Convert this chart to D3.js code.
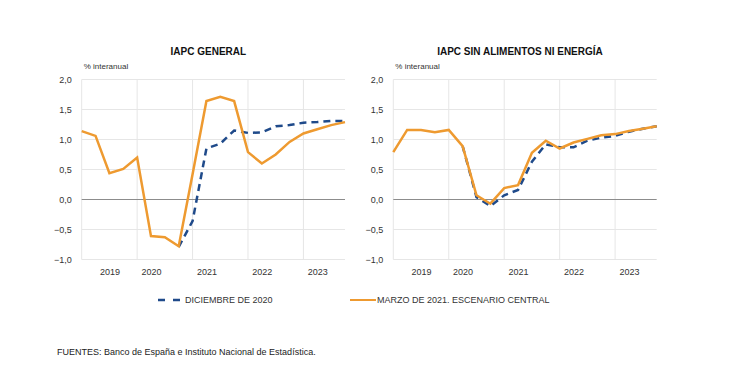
<!DOCTYPE html>
<html>
<head>
<meta charset="utf-8">
<script src="https://cdn.jsdelivr.net/npm/d3@7"></script>
<style>
  body { margin: 0; background: #fff; }
  svg { display: block; font-family: "Liberation Sans", Arial, sans-serif; }
</style>
</head>
<body>
<svg id="chart" width="750" height="373"></svg>
<script>
// trimestres 2019T1 - 2023T4
const quarters = [];
for (let yr = 2019; yr <= 2023; yr++) for (let q = 1; q <= 4; q++) quarters.push(yr + "T" + q);

const tickQuarters = ["2019T3", "2020T2", "2021T2", "2022T2", "2023T2"];
const tickLabels = ["2019", "2020", "2021", "2022", "2023"];
const gridQuarters = ["2020T1", "2021T1", "2022T1", "2023T1"];
const yTicks = [-1, -0.5, 0, 0.5, 1, 1.5, 2];

// IAPC general
const generalMar21 = [1.14, 1.06, 0.44, 0.51, 0.70, -0.61, -0.63, -0.78, 0.42, 1.64, 1.71, 1.64, 0.79, 0.60, 0.75, 0.96, 1.10, 1.17, 1.24, 1.29];
const generalDic20 = [null, null, null, null, null, null, null, -0.79, -0.36, 0.85, 0.93, 1.15, 1.11, 1.12, 1.22, 1.24, 1.28, 1.29, 1.31, 1.31];

// IAPC sin alimentos ni energía
const subyMar21 = [0.79, 1.16, 1.16, 1.12, 1.16, 0.89, 0.07, -0.07, 0.19, 0.24, 0.78, 0.98, 0.85, 0.95, 1.01, 1.07, 1.09, 1.14, 1.18, 1.22];
const subyDic20 = [null, null, null, null, null, 0.89, 0.04, -0.11, 0.07, 0.16, 0.63, 0.92, 0.87, 0.87, 0.98, 1.03, 1.06, 1.13, 1.18, 1.22];

const titles = ["IAPC GENERAL", "IAPC SIN ALIMENTOS NI ENERGÍA"];
const legendLabels = ["DICIEMBRE DE 2020", "MARZO DE 2021. ESCENARIO CENTRAL"];

const ORANGE = "#EE9A30";
const BLUE = "#1F4A8A";
const fmt = d => d3.format(".1f")(d).replace(".", ",");

const svg = d3.select("#chart");

function drawPanel(left, right, title, mar21, dic20) {
  const top = 79.5, bottom = 259.5;
  const x = d3.scalePoint().domain(quarters).range([left, right]);
  const y = d3.scaleLinear().domain([-1, 2]).range([bottom, top]);
  const g = svg.append("g");

  // rejilla horizontal
  g.append("g").selectAll("line").data(yTicks.filter(d => d !== 0)).join("line")
    .attr("x1", left).attr("x2", right)
    .attr("y1", d => y(d)).attr("y2", d => y(d))
    .attr("stroke", "#e6e6e6").attr("stroke-width", 1);

  // rejilla vertical
  g.append("g").selectAll("line").data([quarters[0]].concat(gridQuarters)).join("line")
    .attr("x1", d => x(d)).attr("x2", d => x(d))
    .attr("y1", top).attr("y2", bottom)
    .attr("stroke", "#e6e6e6").attr("stroke-width", 1);

  g.append("line")
    .attr("x1", left).attr("x2", right)
    .attr("y1", y(0)).attr("y2", y(0))
    .attr("stroke", "#8c8c8c").attr("stroke-width", 1);

  // eje Y
  const yAxis = g.append("g")
    .attr("transform", `translate(${left - 7},0)`)
    .call(d3.axisLeft(y).tickValues(yTicks).tickFormat(fmt).tickSize(0));
  yAxis.select(".domain").remove();
  yAxis.selectAll("text").attr("font-size", 9).attr("fill", "#333").attr("font-family", "Liberation Sans, Arial, sans-serif");

  // eje X
  const xAxis = g.append("g")
    .attr("transform", `translate(0,${bottom + 6})`)
    .call(d3.axisBottom(x).tickValues(tickQuarters).tickFormat((d, i) => tickLabels[i]).tickSize(0));
  xAxis.select(".domain").remove();
  xAxis.selectAll("text").attr("font-size", 9).attr("fill", "#333").attr("font-family", "Liberation Sans, Arial, sans-serif");

  const line = d3.line()
    .defined(d => d != null)
    .x((d, i) => x(quarters[i]))
    .y(d => y(d));

  g.append("path").datum(dic20)
    .attr("fill", "none").attr("stroke", BLUE).attr("stroke-width", 2.5)
    .attr("stroke-dasharray", "7,5")
    .attr("d", line);

  g.append("path").datum(mar21)
    .attr("fill", "none").attr("stroke", ORANGE).attr("stroke-width", 2.5)
    .attr("stroke-linejoin", "miter")
    .attr("d", line);

  g.append("text")
    .attr("x", (left + right) / 2 - 5).attr("y", 55)
    .attr("text-anchor", "middle")
    .attr("font-size", 10).attr("font-weight", "bold").attr("fill", "#111")
    .text(title);

  g.append("text")
    .attr("x", left + 2).attr("y", 69)
    .attr("font-size", 8).attr("fill", "#333")
    .text("% interanual");
}

drawPanel(81.7, 345, titles[0], generalMar21, generalDic20);
drawPanel(393.3, 656.7, titles[1], subyMar21, subyDic20);

// leyenda
const leg = svg.append("g");
leg.append("line").attr("x1", 158).attr("x2", 181).attr("y1", 300).attr("y2", 300)
  .attr("stroke", BLUE).attr("stroke-width", 2.5).attr("stroke-dasharray", "7,8");
leg.append("text").attr("x", 185).attr("y", 303.2).attr("font-size", 9).attr("fill", "#333").text(legendLabels[0]);
leg.append("line").attr("x1", 350).attr("x2", 376).attr("y1", 300).attr("y2", 300)
  .attr("stroke", ORANGE).attr("stroke-width", 2);
leg.append("text").attr("x", 377).attr("y", 303.2).attr("font-size", 9).attr("fill", "#333").text(legendLabels[1]);

svg.append("text").attr("x", 57).attr("y", 355).attr("font-size", 9).attr("fill", "#222")
  .text("FUENTES: Banco de España e Instituto Nacional de Estadística.");
</script>
</body>
</html>
